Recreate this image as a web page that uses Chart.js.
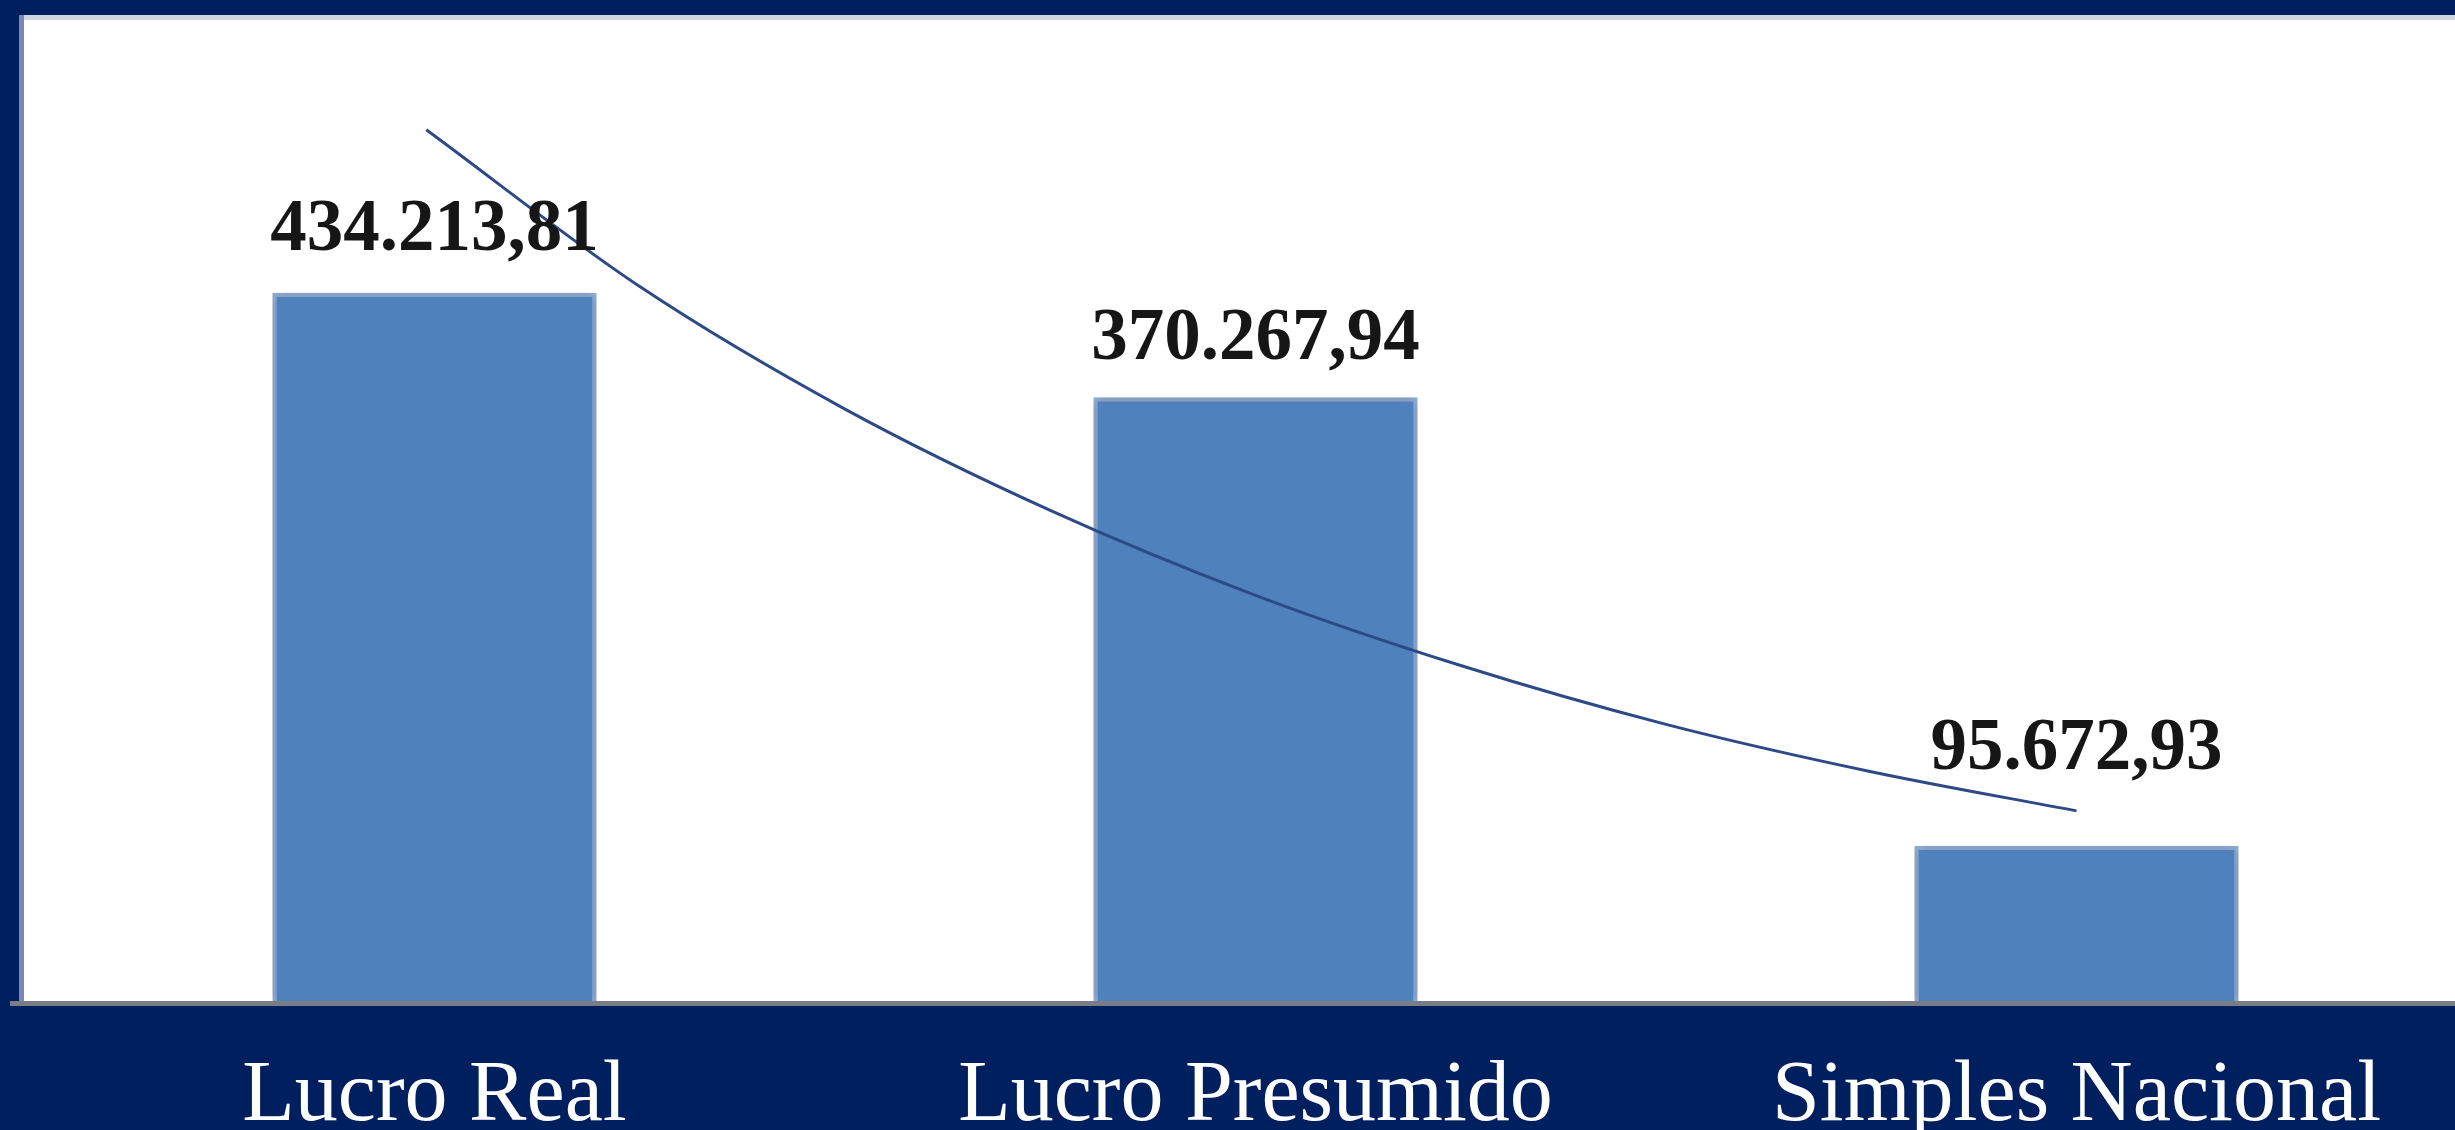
<!DOCTYPE html>
<html>
<head>
<meta charset="utf-8">
<script src="https://cdn.jsdelivr.net/npm/chart.js@4"></script>
<style>
	html, body { margin: 0; padding: 0; background: #001f5e; overflow: hidden; }
	#wrap { width: 2500px; height: 1130px; }
</style>
</head>
<body>
<div id="wrap"><canvas id="myChart" width="2500" height="1130"></canvas></div>
<script>
const categories = ['Lucro Real', 'Lucro Presumido', 'Simples Nacional']
const values = [434213.81, 370267.94, 95672.93]
const valueLabels = ['434.213,81', '370.267,94', '95.672,93']

// trend curve (x in category units, 1 = first bar)
const trendX = [0.99, 1.25, 1.5, 1.75, 2, 2.25, 2.5, 2.75, 3]
const trendY = [534000, 438000, 363000, 301000, 249000, 206000, 170000, 141000, 117000]

const frame = {
	id: 'frame',
	beforeDraw(chart) {
		const ctx = chart.ctx
		const area = chart.chartArea
		ctx.save()
		ctx.fillStyle = '#ffffff'
		ctx.fillRect(19, 15, chart.width - 19, area.bottom - 15)
		ctx.fillStyle = '#cfd4df'
		ctx.fillRect(19, 15, chart.width - 19, 5)
		ctx.fillStyle = '#7888b0'
		ctx.fillRect(19, 15, 5, area.bottom - 15)
		ctx.restore()
	},
	afterDraw(chart) {
		const ctx = chart.ctx
		const area = chart.chartArea
		ctx.save()
		ctx.fillStyle = '#787d86'
		ctx.fillRect(10, area.bottom - 1, chart.width - 10, 5)
		ctx.restore()
	}
}

const barShadow = {
	id: 'barShadow',
	beforeDatasetDraw(chart, args) {
		if (args.meta.type !== 'bar') return
		const ctx = chart.ctx
		ctx.save()
		ctx.shadowColor = 'rgba(0,0,0,0.22)'
		ctx.shadowBlur = 12
	},
	afterDatasetDraw(chart, args) {
		if (args.meta.type !== 'bar') return
		chart.ctx.restore()
	}
}

const valueText = {
	id: 'valueText',
	afterDatasetsDraw(chart, args, opts) {
		const ctx = chart.ctx
		const meta = chart.getDatasetMeta(1)
		ctx.save()
		ctx.fillStyle = '#161616'
		ctx.font = 'bold 73px "Liberation Serif", "Times New Roman", serif'
		ctx.textAlign = 'center'
		ctx.textBaseline = 'middle'
		meta.data.forEach((bar, i) => {
			ctx.fillText(valueLabels[i], bar.x, bar.y - opts.lift[i])
		})
		ctx.restore()
	}
}

const trendData = trendX.map((x, i) => ({ x, y: trendY[i] }))

new Chart(document.getElementById('myChart'), {
	type: 'bar',
	data: {
		labels: categories,
		datasets: [
			{
				type: 'line',
				data: trendData,
				xAxisID: 'xt',
				borderColor: '#2e4a86',
				borderWidth: 3,
				pointRadius: 0,
				cubicInterpolationMode: 'monotone',
				order: 0
			},
			{
				data: values,
				backgroundColor: '#4f81bd',
				borderColor: '#93afd6',
				borderWidth: 4,
				borderSkipped: 'bottom',
				grouped: false,
				barPercentage: 0.395,
				categoryPercentage: 1,
				order: 1
			}
		]
	},
	options: {
		responsive: false,
		animation: false,
		layout: { padding: { left: 24, right: 13, top: 22, bottom: 0 } },
		plugins: {
			legend: { display: false },
			tooltip: { enabled: false },
			valueText: { lift: [62, 57, 96] }
		},
		scales: {
			x: {
				offset: true,
				grid: { display: false, drawTicks: false },
				border: { display: false },
				ticks: {
					color: '#ffffff',
					padding: 44,
					font: { family: '"Liberation Serif", "Times New Roman", serif', size: 86 }
				},
				afterFit(scale) { scale.height = 128 }
			},
			xt: {
				type: 'linear',
				display: false,
				offset: false,
				min: 0.5,
				max: 3.5
			},
			y: {
				display: false,
				min: 0,
				max: 600000
			}
		}
	},
	plugins: [frame, barShadow, valueText]
})
</script>
</body>
</html>
